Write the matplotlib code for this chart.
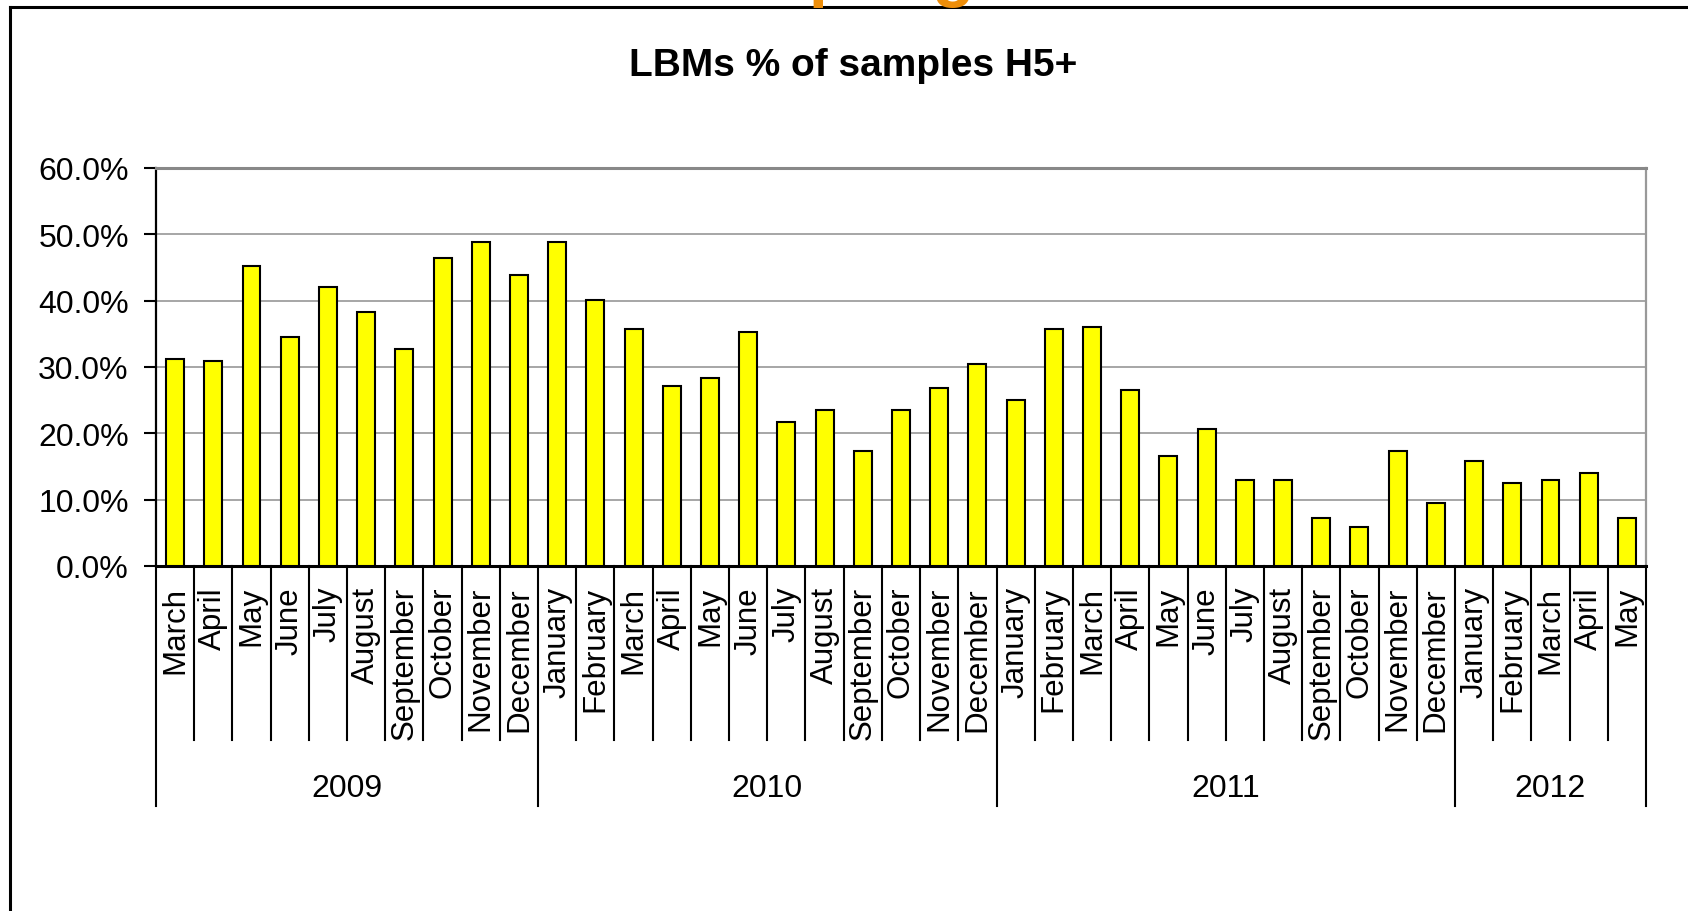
import matplotlib
matplotlib.use('Agg')
import matplotlib.pyplot as plt
from matplotlib.lines import Line2D
from matplotlib.ticker import FuncFormatter, MultipleLocator
import matplotlib.transforms as mtransforms
import numpy as np

# ---------------- data ----------------
months = ["March", "April", "May", "June", "July", "August", "September", "October", "November", "December",
          "January", "February", "March", "April", "May", "June", "July", "August", "September", "October", "November", "December",
          "January", "February", "March", "April", "May", "June", "July", "August", "September", "October", "November", "December",
          "January", "February", "March", "April", "May"]
values = [31.2, 30.9, 45.3, 34.5, 42.0, 38.3, 32.7, 46.4, 48.9, 43.8,
          48.9, 40.1, 35.7, 27.2, 28.3, 35.3, 21.7, 23.5, 17.3, 23.5, 26.9, 30.5,
          25.0, 35.7, 36.0, 26.5, 16.6, 20.6, 12.9, 12.9, 7.3, 5.9, 17.3, 9.5,
          15.8, 12.5, 12.9, 14.0, 7.3]
years = ["2009", "2010", "2011", "2012"]
year_counts = [10, 12, 12, 5]
title = "LBMs % of samples H5+"
heading = "Sampling"

# ---------------- layout ----------------
W, H = 1688, 912
plt.rcParams['font.family'] = ['Liberation Sans', 'DejaVu Sans']
fig = plt.figure(figsize=(W / 100, H / 100), dpi=100)
fig.patch.set_facecolor('white')

L, R, T, B = 156, 1646, 169, 567
ax = fig.add_axes([L / W, 1 - B / H, (R - L) / W, (B - T) / H])

def ypx(p):
    return (B - p) / (B - T)

x = np.arange(len(values))
ax.bar(x, values, width=0.47, color='#FFFF00', edgecolor='black', linewidth=1.5, zorder=3)
ax.set_xlim(-0.5, len(values) - 0.5)
ax.set_ylim(0, 60)
ax.yaxis.set_major_locator(MultipleLocator(10))
ax.yaxis.set_major_formatter(FuncFormatter(lambda v, p: f'{v:.1f}%'))
ax.grid(axis='y', color='#A6A6A6', lw=1.4, zorder=0)
ax.set_xticks([])
ax.tick_params(axis='y', length=8.6, width=1.5, pad=11, labelsize=23, color='black')

ax.spines['left'].set_color('black')
ax.spines['left'].set_linewidth(1.6)
ax.spines['bottom'].set_color('black')
ax.spines['bottom'].set_linewidth(2.2)
ax.spines['top'].set_color('#888888')
ax.spines['top'].set_linewidth(2.2)
ax.spines['right'].set_color('#999999')
ax.spines['right'].set_linewidth(1.6)

trans = mtransforms.blended_transform_factory(ax.transData, ax.transAxes)

bounds = np.concatenate([[0], np.cumsum(year_counts)])
for i in range(len(values) + 1):
    b = i - 0.5
    ybot = ypx(807) if i in bounds else ypx(741)
    ax.plot([b, b], [0, ybot], transform=trans, clip_on=False, color='black', lw=1.5, zorder=4)

for i, m in enumerate(months):
    ax.text(i, ypx(587), m, rotation=90, ha='center', va='top', fontsize=22.5,
            transform=trans, clip_on=False)

for k, yr in enumerate(years):
    c = (bounds[k] + bounds[k + 1]) / 2 - 0.5
    ax.text(c, ypx(789), yr, ha='center', va='center', fontsize=23, transform=trans)

fig.text(853 / W, 1 - 76 / H, title, ha='center', va='baseline', fontsize=28, weight='bold')

# orange heading mostly cut off at top of image (as in the reference)
fig.text(663 / W, 1 + 6 / H, heading, ha='left', va='baseline', fontsize=50, weight='bold', color='#EE8E0A')

# outer frame (only top and left edges visible)
fig.add_artist(Line2D([10 / W, 10 / W], [0, 1 - 8 / H], transform=fig.transFigure, color='black', lw=2.2))
fig.add_artist(Line2D([10 / W, 1.0], [1 - 8 / H, 1 - 8 / H], transform=fig.transFigure, color='black', lw=2.2))

fig.savefig('out.png', dpi=100, facecolor='white')
